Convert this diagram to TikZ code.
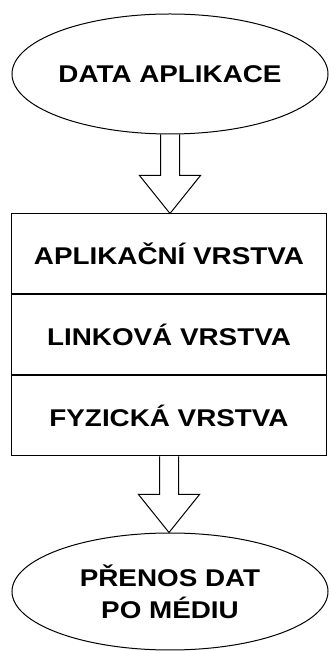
\documentclass[tikz,border=0pt]{standalone}
\usepackage{fontspec}
\setmainfont{Liberation Sans}[FakeStretch=1.15]
\usetikzlibrary{calc,positioning,shapes}

\begin{document}
\begin{tikzpicture}[x=1pt,y=1pt,line width=1pt,
  txt/.style={font=\bfseries\fontsize{24.2}{32}\selectfont, align=center, inner sep=0pt},
  ell/.style={ellipse, draw, txt, minimum width=316pt},
  lay/.style={rectangle, draw, txt, minimum width=315pt, minimum height=80pt}]
\useasboundingbox (0,0) rectangle (331,651);
\node[ell, minimum height=120pt] (dat) at (170,577) {DATA APLIKACE};
\node[lay] (app) at (169,397) {APLIKAČNÍ VRSTVA};
\node[lay, below=0pt of app] (lnk) {LINKOVÁ VRSTVA};
\node[lay, below=0pt of lnk] (phy) {FYZICKÁ VRSTVA};
\node[ell, minimum height=117pt] (med) at (170,59.5) {PŘENOS DAT\\PO MÉDIU};
% hollow block arrows
\foreach \a/\b in {dat/app,phy/med}{
\draw let \p1 = (\a.south), \p2 = (\b.north) in
  (\x1-9.5,\y1) -- (\x1-9.5,\y2+38) -- (\x1-30.5,\y2+38) -- (\x1,\y2)
  -- (\x1+30.5,\y2+38) -- (\x1+9.5,\y2+38) -- (\x1+9.5,\y1);
}
\end{tikzpicture}
\end{document}
